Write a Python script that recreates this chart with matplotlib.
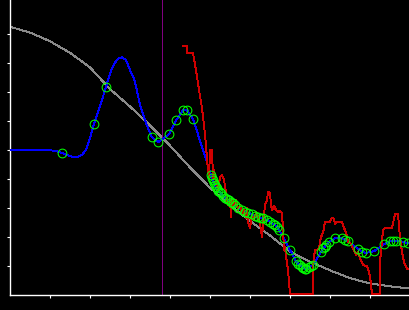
import numpy as np
import matplotlib
matplotlib.use("Agg")
import matplotlib.pyplot as plt

# ---- data (x in samples, y normalised) ----
gray_x = [-10, 0, 20, 40, 60, 80, 100, 120, 140, 160, 180, 200, 220, 240, 260, 280, 300, 320, 340, 360, 380, 400]
gray_y = [0.937, 0.925, 0.905, 0.875, 0.835, 0.785, 0.71, 0.65, 0.585, 0.515, 0.44, 0.37, 0.31, 0.255,
          0.205, 0.15, 0.115, 0.085, 0.058, 0.04, 0.03, 0.022]

blue_smooth_x = [0, 38, 45, 52, 58, 63, 68, 72, 76, 80, 84, 90, 96, 100, 104, 108, 112, 116, 120, 124,
                 126, 130, 136, 142]
blue_smooth_y = [0.500, 0.500, 0.497, 0.490, 0.481, 0.476, 0.476, 0.483, 0.500, 0.540, 0.590, 0.650,
                 0.718, 0.764, 0.797, 0.815, 0.820, 0.810, 0.775, 0.745, 0.720, 0.655, 0.592, 0.544]

green_x = [52, 84, 96, 142, 148, 159, 166, 173, 177, 183,
           201, 202, 203, 204, 205, 206, 207, 208, 210, 211, 213, 215, 217, 219, 221, 223, 225, 228, 232,
           235, 238, 242, 245, 248, 251, 253, 257, 260, 263, 265, 267, 269, 274, 280,
           286, 288, 290, 292, 293, 295, 296, 299, 301, 303,
           311, 313, 315, 316, 319, 325, 332, 335, 338,
           348, 352, 356, 364, 374, 380, 383, 386, 393, 398]
green_y = [0.489, 0.589, 0.718, 0.544, 0.527, 0.554, 0.602, 0.637, 0.637, 0.607,
           0.414, 0.405, 0.395, 0.387, 0.379, 0.373, 0.368, 0.359, 0.355, 0.351, 0.341, 0.336, 0.330, 0.326,
           0.322, 0.316, 0.310, 0.299, 0.293, 0.287, 0.284, 0.278, 0.272, 0.268, 0.266, 0.264, 0.259, 0.252,
           0.245, 0.241, 0.236, 0.224, 0.196, 0.155,
           0.116, 0.108, 0.102, 0.097, 0.093, 0.091, 0.090, 0.095, 0.099, 0.103,
           0.148, 0.161, 0.167, 0.172, 0.183, 0.195, 0.196, 0.191, 0.185,
           0.159, 0.150, 0.145, 0.151, 0.175, 0.185, 0.186, 0.186, 0.184, 0.178]

red_x = [173, 177, 177, 183, 186, 189, 192, 194, 196, 197, 199, 200, 202, 203, 204, 206, 208, 210, 212, 214,
         216, 218, 220, 221, 222, 224, 226, 228, 230, 232, 234, 236, 237, 238, 240, 242, 244, 246, 248, 250,
         251, 252, 253, 255, 257, 258, 260, 261, 262, 264, 266, 268, 270, 272, 273, 274, 275, 276, 278, 279,
         280, 303, 303, 305, 307, 309, 311, 313, 315, 320, 322, 324, 325, 327, 332, 334, 336, 338, 340, 343,
         346, 348, 350, 353, 357, 360, 362, 370, 370, 373, 375, 382, 385, 388, 390, 392, 394, 397, 400]
red_y = [0.859, 0.859, 0.834, 0.834, 0.776, 0.707, 0.645, 0.586, 0.517, 0.466, 0.403, 0.500, 0.500, 0.403,
         0.431, 0.390, 0.362, 0.407, 0.414, 0.397, 0.355, 0.310, 0.328, 0.270, 0.334, 0.310, 0.328, 0.293,
         0.310, 0.279, 0.293, 0.266, 0.300, 0.252, 0.231, 0.276, 0.259, 0.286, 0.266, 0.248, 0.220, 0.200,
         0.240, 0.310, 0.328, 0.355, 0.352, 0.310, 0.293, 0.307, 0.293, 0.286, 0.290, 0.283, 0.224, 0.155,
         0.166, 0.134, 0.086, 0.045, 0.003, 0.003, 0.103, 0.155, 0.155, 0.162, 0.200, 0.214, 0.252, 0.252,
         0.266, 0.262, 0.245, 0.252, 0.252, 0.231, 0.217, 0.183, 0.179, 0.162, 0.138, 0.148, 0.128, 0.103,
         0.100, 0.066, 0.003, 0.003, 0.114, 0.224, 0.231, 0.231, 0.279, 0.279, 0.197, 0.148, 0.114, 0.090,
         0.090]

marker_x = 152

x_ticks = [40, 80, 120, 160, 200, 240, 280, 320, 360, 400]
y_ticks = [0.1, 0.2, 0.3, 0.4, 0.5, 0.6, 0.7, 0.8, 0.9]

# ---- figure ----
W, H = 410, 310
fig = plt.figure(figsize=(W / 100, H / 100), dpi=100, facecolor="black")
ax = fig.add_axes([10 / W, 15 / H, 400 / W, 295 / H], facecolor="black")

aa = False
LW = 0.68
ax.plot(gray_x, gray_y, color="#8a8a8a", lw=LW, antialiased=aa, zorder=2)
ax.axvline(marker_x, color="#800080", lw=LW, antialiased=aa, zorder=2.1)

blue_x = blue_smooth_x + green_x[3:]
blue_y = blue_smooth_y + green_y[3:]
ax.plot(blue_x, blue_y, color="#0000ff", lw=LW, antialiased=aa, zorder=3)
ax.plot(red_x, red_y, color="#d00000", lw=LW, antialiased=aa, zorder=3.5)
ax.plot(green_x, green_y, linestyle="none", marker="o", markersize=6.3, markerfacecolor="none",
        markeredgecolor="#00ff00", markeredgewidth=0.75, antialiased=aa, zorder=4)

ax.set_xlim(0, 400)
ax.set_ylim(0, 295 / 290)
ax.set_xticks(x_ticks)
ax.set_yticks(y_ticks)
ax.tick_params(colors="white", direction="out", length=2.3, width=0.8,
               labelbottom=False, labelleft=False)
for side in ("top", "right"):
    ax.spines[side].set_visible(False)
for side in ("left", "bottom"):
    ax.spines[side].set_color("white")
    ax.spines[side].set_linewidth(1.0)

fig.savefig("out.png", dpi=100, facecolor="black")
